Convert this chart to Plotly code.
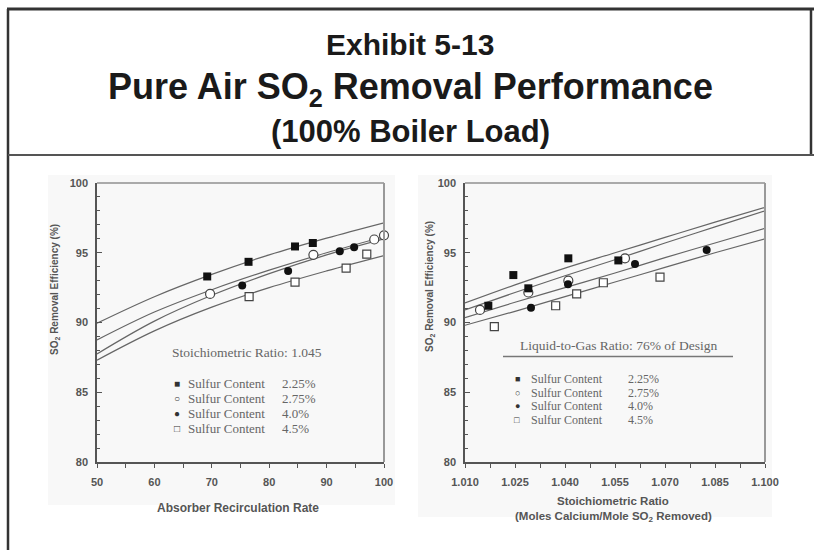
import plotly.graph_objects as go

W, H = 814, 550

# ---------------- data ----------------
# Left panel: SO2 removal efficiency vs absorber recirculation rate
rec_fit_x = [50, 60, 70, 80, 90, 100]
rec_fit_225 = [89.95, 91.85, 93.45, 94.85, 96.05, 97.15]
rec_fit_275 = [88.75, 90.75, 92.35, 93.75, 95.0, 96.15]
rec_fit_40 = [87.75, 90.1, 91.95, 93.5, 94.85, 96.0]
rec_fit_45 = [87.3, 89.4, 91.1, 92.5, 93.7, 94.8]

rec_225_x = [69.2, 76.4, 84.5, 87.6]
rec_225_y = [93.3, 94.35, 95.45, 95.7]
rec_275_x = [69.7, 87.7, 98.3, 100.0]
rec_275_y = [92.05, 94.85, 95.95, 96.25]
rec_40_x = [75.3, 83.3, 92.3, 94.8]
rec_40_y = [92.65, 93.7, 95.1, 95.4]
rec_45_x = [76.5, 84.5, 93.4, 97.0]
rec_45_y = [91.85, 92.9, 93.9, 94.9]

# Right panel: SO2 removal efficiency vs stoichiometric ratio
sr_fit_x = [1.010, 1.025, 1.040, 1.055, 1.070, 1.085, 1.100]
sr_fit_a = [91.4, 92.7, 93.9, 95.0, 96.1, 97.2, 98.25]
sr_fit_b = [90.9, 92.15, 93.35, 94.5, 95.7, 96.85, 98.0]
sr_fit_c = [90.35, 91.45, 92.5, 93.55, 94.65, 95.7, 96.75]
sr_fit_d = [89.8, 90.8, 91.85, 92.9, 93.95, 95.0, 96.0]

sr_225_x = [1.017, 1.0245, 1.029, 1.041, 1.056]
sr_225_y = [91.2, 93.4, 92.45, 94.6, 94.45]
sr_275_x = [1.0145, 1.029, 1.041, 1.058]
sr_275_y = [90.9, 92.15, 93.0, 94.6]
sr_40_x = [1.0298, 1.0409, 1.061, 1.0825]
sr_40_y = [91.05, 92.75, 94.2, 95.2]
sr_45_x = [1.0188, 1.0372, 1.0435, 1.0515, 1.0685]
sr_45_y = [89.7, 91.2, 92.05, 92.85, 93.25]

rec_ticks = [50, 60, 70, 80, 90, 100]
eff_ticks = [80, 85, 90, 95, 100]
sr_ticks = [1.010, 1.025, 1.040, 1.055, 1.070, 1.085, 1.100]
sr_tick_text = ["1.010", "1.025", "1.040", "1.055", "1.070", "1.085", "1.100"]

legend_symbols = ["\u25A0", "\u25CB", "\u25CF", "\u25A1"]
legend_pcts = ["2.25%", "2.75%", "4.0%", "4.5%"]


def px(x):
    return x / W


def py(y):
    return 1 - y / H


SANS = "Liberation Sans, Arial, sans-serif"
SERIF = "Liberation Serif, Times New Roman, serif"
LINE_C = "#666666"
AX_C = "#555555"

fig = go.Figure()

fill_sq = dict(symbol="square", size=8, color="#111111")
fill_ci = dict(symbol="circle", size=8, color="#111111")
open_ci = dict(symbol="circle", size=9, color="white", line=dict(color="#444444", width=1.2))
open_sq = dict(symbol="square", size=8, color="white", line=dict(color="#444444", width=1.2))

for ys in [rec_fit_225, rec_fit_275, rec_fit_40, rec_fit_45]:
    fig.add_trace(go.Scatter(x=rec_fit_x, y=ys, mode="lines", line=dict(color=LINE_C, width=1.2, shape="spline"),
                             xaxis="x", yaxis="y", showlegend=False, hoverinfo="skip"))
for xs, ys, mk in [(rec_225_x, rec_225_y, fill_sq), (rec_40_x, rec_40_y, fill_ci),
                   (rec_275_x, rec_275_y, open_ci), (rec_45_x, rec_45_y, open_sq)]:
    fig.add_trace(go.Scatter(x=xs, y=ys, mode="markers", marker=mk, xaxis="x", yaxis="y",
                             showlegend=False, cliponaxis=False))

for ys in [sr_fit_a, sr_fit_b, sr_fit_c, sr_fit_d]:
    fig.add_trace(go.Scatter(x=sr_fit_x, y=ys, mode="lines", line=dict(color=LINE_C, width=1.2, shape="spline"),
                             xaxis="x2", yaxis="y2", showlegend=False, hoverinfo="skip"))
for xs, ys, mk in [(sr_275_x, sr_275_y, open_ci), (sr_45_x, sr_45_y, open_sq),
                   (sr_225_x, sr_225_y, fill_sq), (sr_40_x, sr_40_y, fill_ci)]:
    fig.add_trace(go.Scatter(x=xs, y=ys, mode="markers", marker=mk, xaxis="x2", yaxis="y2",
                             showlegend=False, cliponaxis=False))

dom_l = [px(97), px(384)]
dom_r = [px(465), px(765)]
dom_y = [py(462), py(183)]

tickfont = dict(family=SANS, size=11, color=AX_C, weight="bold")

xcommon = dict(showgrid=False, zeroline=False, showline=True, linecolor=AX_C, linewidth=1.5,
               ticks="outside", ticklen=4, tickcolor=AX_C, tickwidth=1, tickfont=tickfont,
               ticklabelstandoff=5, automargin=False)
ycommon = dict(showgrid=False, zeroline=False, showline=True, linecolor=AX_C, linewidth=1.5,
               ticks="inside", ticklen=5, tickcolor=AX_C, tickwidth=1, tickfont=tickfont,
               tickmode="array", tickvals=eff_ticks, range=[80, 100], ticklabelstandoff=5,
               automargin=False,
               minor=dict(ticks="inside", ticklen=3, dtick=1, tickcolor=AX_C, showgrid=False))

fig.update_layout(
    width=W, height=H, margin=dict(l=0, r=0, t=0, b=0, autoexpand=False),
    paper_bgcolor="white", plot_bgcolor="rgba(0,0,0,0)", showlegend=False,
    xaxis=dict(domain=dom_l, anchor="y", range=[50, 100], tickmode="array", tickvals=rec_ticks,
               minor=dict(ticks="outside", ticklen=4, dtick=5, tickcolor=AX_C, showgrid=False), **xcommon),
    yaxis=dict(domain=dom_y, anchor="x", **ycommon),
    xaxis3=dict(overlaying="x", anchor="y", range=[50, 100], showgrid=False, zeroline=False, showline=False,
                ticks="inside", ticklen=4, dtick=5, tick0=50, tickcolor=AX_C, showticklabels=False,
                automargin=False),
    xaxis2=dict(domain=dom_r, anchor="y2", range=[1.010, 1.100], tickmode="array", tickvals=sr_ticks,
                ticktext=sr_tick_text,
                minor=dict(ticks="outside", ticklen=4, dtick=0.0075, tick0=1.010, tickcolor=AX_C, showgrid=False),
                **xcommon),
    yaxis2=dict(domain=dom_y, anchor="x2", **ycommon),
    xaxis4=dict(overlaying="x2", anchor="y2", range=[1.010, 1.100], showgrid=False, zeroline=False,
                showline=False, ticks="inside", ticklen=4, dtick=0.0075, tick0=1.010, tickcolor=AX_C,
                showticklabels=False, automargin=False),
)

shapes = []
# faint scanned-image backgrounds
shapes.append(dict(type="rect", xref="paper", yref="paper", x0=px(48), x1=px(395), y0=py(505), y1=py(175),
                   fillcolor="#f8f8f8", line=dict(width=0), layer="below"))
shapes.append(dict(type="rect", xref="paper", yref="paper", x0=px(418), x1=px(772), y0=py(517), y1=py(175),
                   fillcolor="#f8f8f8", line=dict(width=0), layer="below"))
# plot-area top/right borders
for xa, ya in [("x", "y"), ("x2", "y2")]:
    shapes.append(dict(type="line", xref=xa + " domain", yref=ya + " domain", x0=0, x1=1, y0=1, y1=1,
                       line=dict(color="#aaaaaa", width=2)))
    shapes.append(dict(type="line", xref=xa + " domain", yref=ya + " domain", x0=1, x1=1, y0=0, y1=1,
                       line=dict(color="#999999", width=2)))
# exhibit frame
shapes.append(dict(type="line", xref="paper", yref="paper", x0=px(7), x1=px(814), y0=py(9), y1=py(9),
                   line=dict(color="#333333", width=3)))
shapes.append(dict(type="line", xref="paper", yref="paper", x0=px(8), x1=px(8), y0=py(9), y1=py(550),
                   line=dict(color="#333333", width=2.5)))
shapes.append(dict(type="line", xref="paper", yref="paper", x0=px(811), x1=px(811), y0=py(9), y1=py(155),
                   line=dict(color="#333333", width=2.5)))
shapes.append(dict(type="line", xref="paper", yref="paper", x0=px(8), x1=px(814), y0=py(155), y1=py(155),
                   line=dict(color="#555555", width=2)))
# underline of right panel note
shapes.append(dict(type="line", xref="paper", yref="paper", x0=px(503), x1=px(733), y0=py(356.5), y1=py(356.5),
                   line=dict(color="#777777", width=1.5)))
fig.update_layout(shapes=shapes)

ann = []


def text(x, y, s, size, family=SANS, color="#555555", bold=False, xanchor="center", angle=0):
    ann.append(dict(x=px(x), y=py(y), xref="paper", yref="paper", text=s, showarrow=False,
                    xanchor=xanchor, yanchor="middle", textangle=angle,
                    font=dict(family=family, size=size, color=color, weight="bold" if bold else "normal")))


# header
text(410, 45, "Exhibit 5-13", 30, SANS, "#1a1a1a", True)
text(410, 89, "Pure Air SO<sub>2</sub> Removal Performance", 36, SANS, "#1a1a1a", True)
text(410, 131, "(100% Boiler Load)", 31, SANS, "#1a1a1a", True)

# axis titles
text(55, 290, "SO<sub>2</sub> Removal Efficiency (%)", 10, SANS, "#555555", True, angle=-90)
text(238, 508, "Absorber Recirculation Rate", 12, SANS, "#555555", True)
text(430, 287, "SO<sub>2</sub> Removal Efficiency (%)", 10, SANS, "#555555", True, angle=-90)
text(613, 501, "Stoichiometric Ratio", 11.5, SANS, "#555555", True)
text(613, 517, "(Moles Calcium/Mole SO<sub>2</sub> Removed)", 11.5, SANS, "#555555", True)

# left note + legend
text(247, 352, "Stoichiometric Ratio: 1.045", 13.5, SERIF, "#666666")
for i, (sym, pct) in enumerate(zip(legend_symbols, legend_pcts)):
    yy = 383 + 15.2 * i
    text(177, yy, sym, 10, SERIF, "#333333")
    text(186, yy, "Sulfur Content", 13, SERIF, "#666666", xanchor="left")
    text(280, yy, pct, 13, SERIF, "#666666", xanchor="left")

# right note + legend
text(618, 345, "Liquid-to-Gas Ratio: 76% of Design", 13.5, SERIF, "#666666")
for i, (sym, pct) in enumerate(zip(legend_symbols, legend_pcts)):
    yy = 379 + 13.5 * i
    text(517, yy, sym, 9, SERIF, "#333333")
    text(529, yy, "Sulfur Content", 12, SERIF, "#666666", xanchor="left")
    text(626, yy, pct, 12, SERIF, "#666666", xanchor="left")

fig.update_layout(annotations=ann)

fig.write_html("out.html")
